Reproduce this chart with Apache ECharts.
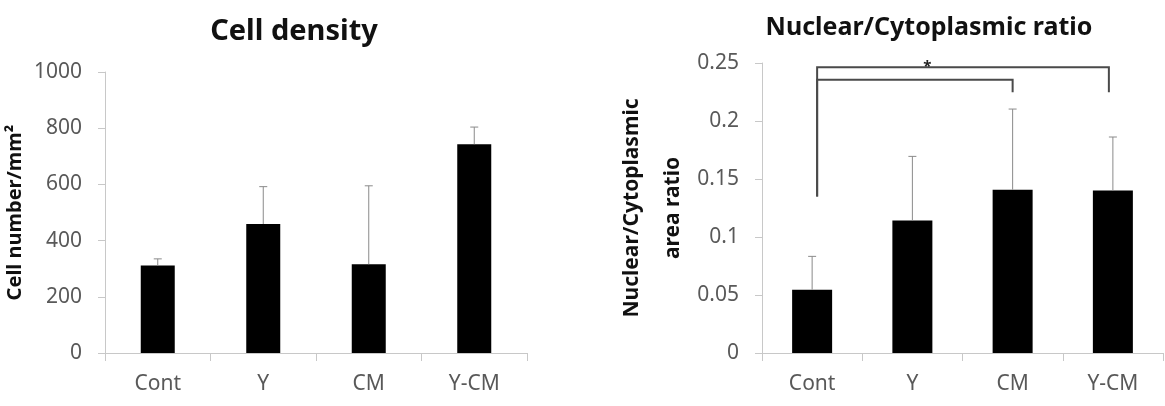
<!DOCTYPE html>
<html>
<head>
<meta charset="utf-8">
<script src="https://cdn.jsdelivr.net/npm/echarts@6/dist/echarts.min.js"></script>
<style>
  html, body { margin: 0; padding: 0; background: #fff; }
  #chart { width: 1165px; height: 406px; }
</style>
</head>
<body>
<div id="chart"></div>
<script>
// groups on both panels
let categories = ['Cont', 'Y', 'CM', 'Y-CM'];

// left panel: cell density
let densityMean = [311, 459, 316, 743];
let densitySd = [24, 133, 279, 61];
let densityTicks = [0, 200, 400, 600, 800, 1000];

// right panel: nuclear / cytoplasmic ratio
let ratioMean = [0.0546, 0.1143, 0.1408, 0.140];
let ratioSd = [0.0287, 0.0552, 0.0695, 0.0462];
let ratioTicks = [0, 0.05, 0.1, 0.15, 0.2, 0.25];

// significance brackets: [fromIdx, toIdx, topValue, leftLegEnd, rightLegEnd]
let brackets = [
    [0, 3, 0.2463, 0.135, 0.2247],
    [0, 2, 0.2356, 0.135, 0.2247]
];
let bracketMarks = ['*', ''];

let FONT = '"Noto Sans", sans-serif';
let AXIS_GREY = '#c8c8c8';
let LABEL_GREY = '#595959';

let errorItem = function (params, api) {
    let base = api.coord([api.value(0), api.value(1)]);
    let top = api.coord([api.value(0), api.value(2)]);
    let style = { stroke: '#8a8a8a', lineWidth: 1 };
    return {
        type: 'group',
        children: [
            { type: 'line', shape: { x1: base[0], y1: base[1], x2: top[0], y2: top[1] }, style: style },
            { type: 'line', shape: { x1: top[0] - 4, y1: top[1], x2: top[0] + 4, y2: top[1] }, style: style }
        ]
    };
};

let bracketItem = function (params, api) {
    let a = api.coord([api.value(0), api.value(2)]);
    let b = api.coord([api.value(1), api.value(2)]);
    let aEnd = api.coord([api.value(0), api.value(3)]);
    let bEnd = api.coord([api.value(1), api.value(4)]);
    let xa = a[0] + 5;
    let xb = b[0] - (api.value(1) === 3 ? 4 : 0);
    let style = { stroke: '#4a4a4a', lineWidth: 2, fill: null };
    let children = [{
        type: 'polyline',
        shape: { points: [[xa, aEnd[1]], [xa, a[1]], [xb, a[1]], [xb, bEnd[1]]] },
        style: style
    }];
    let mark = bracketMarks[params.dataIndex];
    if (mark) {
        children.push({
            type: 'text',
            style: {
                text: mark, x: xa + (xb - xa) * 0.378, y: a[1] + 7,
                align: 'center', verticalAlign: 'bottom',
                font: 'bold 15px ' + FONT, fill: '#222'
            }
        });
    }
    return { type: 'group', children: children };
};

let xAxisCommon = {
    type: 'category',
    data: categories,
    axisLine: { lineStyle: { color: AXIS_GREY, width: 1 } },
    axisTick: { show: true, length: 8, lineStyle: { color: AXIS_GREY } },
    axisLabel: { color: LABEL_GREY, fontSize: 21, fontFamily: FONT, margin: 21 }
};

let yAxisCommon = {
    type: 'value',
    min: 0,
    splitLine: { show: false },
    axisLine: { show: true, lineStyle: { color: AXIS_GREY, width: 1 } },
    axisTick: { show: true, length: 7, lineStyle: { color: AXIS_GREY } },
    axisLabel: { color: LABEL_GREY, fontSize: 21, fontFamily: FONT, margin: 23, formatter: (v) => String(v) },
    nameLocation: 'middle',
    nameRotate: 90,
    nameTextStyle: { color: '#111', fontSize: 20, fontWeight: 'bold', fontFamily: FONT }
};

let chart = echarts.init(document.getElementById('chart'));

let option = {
    backgroundColor: '#fff',
    animation: false,
    title: [
        {
            text: 'Cell density', left: 289, top: 12, textAlign: 'center',
            textStyle: { fontSize: 29, fontWeight: 'bold', color: '#111', fontFamily: FONT }
        },
        {
            text: 'Nuclear/Cytoplasmic ratio', left: 924, top: 10, textAlign: 'center',
            textStyle: { fontSize: 25, fontWeight: 'bold', color: '#111', fontFamily: FONT }
        }
    ],
    grid: [
        { left: 105, right: 638, top: 72, bottom: 53 },
        { left: 762, right: 2, top: 63, bottom: 53 }
    ],
    xAxis: [
        Object.assign({ gridIndex: 0 }, xAxisCommon),
        Object.assign({ gridIndex: 1 }, xAxisCommon)
    ],
    yAxis: [
        Object.assign({}, yAxisCommon, {
            gridIndex: 0,
            max: densityTicks[densityTicks.length - 1],
            interval: densityTicks[1] - densityTicks[0],
            name: 'Cell number/mm²',
            nameGap: 80
        }),
        Object.assign({}, yAxisCommon, {
            gridIndex: 1,
            max: ratioTicks[ratioTicks.length - 1],
            interval: ratioTicks[1] - ratioTicks[0],
            name: 'Nuclear/Cytoplasmic\narea ratio',
            nameGap: 68,
            nameTextStyle: Object.assign({}, yAxisCommon.nameTextStyle, { fontSize: 21, lineHeight: 41 })
        })
    ],
    series: [
        {
            type: 'bar', xAxisIndex: 0, yAxisIndex: 0,
            data: densityMean, barWidth: 34,
            itemStyle: { color: '#000' }
        },
        {
            type: 'custom', xAxisIndex: 0, yAxisIndex: 0,
            renderItem: errorItem,
            data: densityMean.map((m, i) => [i, m, m + densitySd[i]]),
            z: 3
        },
        {
            type: 'bar', xAxisIndex: 1, yAxisIndex: 1,
            data: ratioMean, barWidth: 40,
            itemStyle: { color: '#000' }
        },
        {
            type: 'custom', xAxisIndex: 1, yAxisIndex: 1,
            renderItem: errorItem,
            data: ratioMean.map((m, i) => [i, m, m + ratioSd[i]]),
            z: 3
        },
        {
            type: 'custom', xAxisIndex: 1, yAxisIndex: 1,
            renderItem: bracketItem,
            data: brackets,
            clip: false,
            z: 4
        }
    ]
};

chart.setOption(option);
</script>
</body>
</html>
